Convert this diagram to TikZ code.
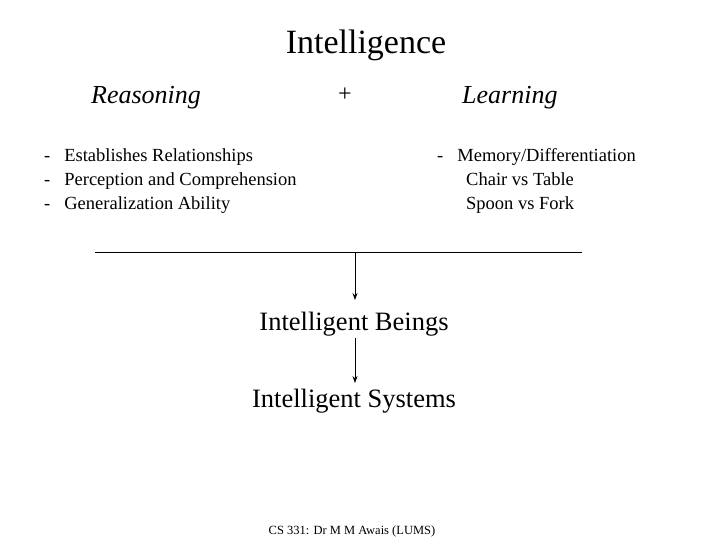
\documentclass[tikz,border=0pt]{standalone}
\usepackage{fontspec}
\setmainfont{Liberation Serif}
\usetikzlibrary{arrows.meta}
\begin{document}
\begin{tikzpicture}[x=1pt,y=-1pt,
  txt/.style={inner sep=0pt,anchor=base west},
  arr/.style={-{Stealth[length=7pt,width=5pt]},line width=0.8pt}]
\useasboundingbox (0,0) rectangle (720,540);
\node[inner sep=0pt,anchor=base] (title) at (366,54) {\fontsize{34}{40}\selectfont Intelligence};
\node[txt] (reas) at (91,104) {\fontsize{26}{30}\selectfont\itshape Reasoning};
\node[inner sep=0pt,anchor=base] (plus) at (345,102) {\fontsize{24}{28}\selectfont +};
\node[txt] (learn) at (462,104) {\fontsize{26}{30}\selectfont\itshape Learning};
\node[txt,align=left] (l1) at (44,162) {\fontsize{18.5}{24}\selectfont -\hspace{14pt}Establishes Relationships};
\node[txt] (l2) at (44,186) {\fontsize{18.5}{24}\selectfont -\hspace{14pt}Perception and Comprehension};
\node[txt] (l3) at (44,210) {\fontsize{18.5}{24}\selectfont -\hspace{14pt}Generalization Ability};
\node[txt] (r1) at (437,162) {\fontsize{18.5}{24}\selectfont -\hspace{14pt}Memory/Differentiation};
\node[txt] (r2) at (466,186) {\fontsize{18.5}{24}\selectfont Chair vs Table};
\node[txt] (r3) at (466,210) {\fontsize{18.5}{24}\selectfont Spoon vs Fork};
\coordinate (la) at (95,252);
\coordinate (lb) at (582,252);
\coordinate (lm) at (355,252);
\draw[line width=0.8pt] (la) -- (lb);
\node[inner sep=0pt,anchor=base] (beings) at (354,330) {\fontsize{26.5}{30}\selectfont Intelligent Beings};
\node[inner sep=0pt,anchor=base] (systems) at (354,407) {\fontsize{26.5}{30}\selectfont Intelligent Systems};
\draw[arr] (lm) -- (355,300);
\draw[arr] (355,338) -- (355,383);
\node[inner sep=0pt,anchor=base] (foot) at (352,534) {\fontsize{12.5}{14}\selectfont CS 331: Dr M M Awais (LUMS)};
\end{tikzpicture}
\end{document}
